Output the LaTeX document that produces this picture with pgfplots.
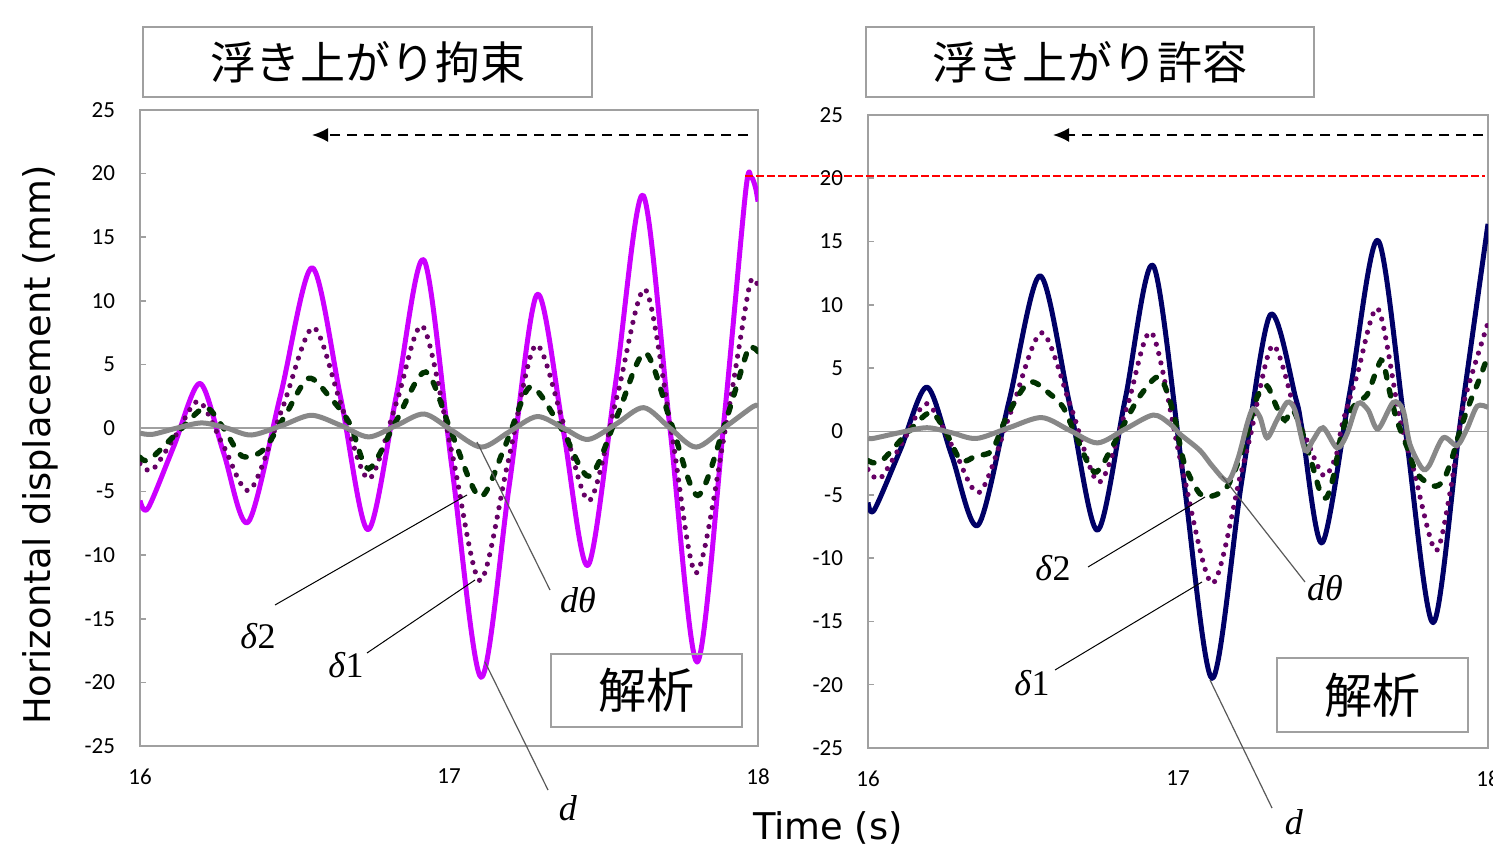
\documentclass[border=0pt]{standalone}
\usepackage{fontspec}
\usepackage{pgfplots}
\pgfplotsset{compat=1.18}
\usetikzlibrary{arrows.meta}
\setmainfont{Liberation Serif}
\newfontfamily\jp{Noto Sans CJK JP}
\newfontfamily\tickfont{Carlito}
\newfontfamily\dv{DejaVu Sans}
\definecolor{mag}{HTML}{CC00FF}
\definecolor{navy}{HTML}{000066}
\definecolor{dpurp}{HTML}{660066}
\definecolor{dgreen}{HTML}{003300}
\definecolor{framegray}{HTML}{A0A0A0}
\definecolor{curvegray}{HTML}{888888}

\pgfplotsset{
 panel/.style={
  scale only axis, anchor=south west,
  xmin=16, xmax=18, ymin=-25, ymax=25,
  xtick={16,17,18}, xticklabels={16,17,18},
  ytick={-25,-20,...,25}, yticklabels={-25,-20,-15,-10,-5,0,5,10,15,20,25},
  ytick pos=left, xtick pos=bottom,
  tick align=inside, major tick length=3pt,
  axis line style={framegray, line width=0.8pt},
  ytick style={framegray, line width=0.8pt},
  xtick style={draw=none},
  ticklabel style={font=\tickfont\fontsize{11.5}{12}\selectfont},
  yticklabel style={xshift=-9pt},
  xticklabel style={yshift=-8pt},
 },
 dline/.style={line width=2.5pt, smooth, line join=round},
 d1line/.style={dpurp, line width=2.6pt, line cap=round, dash pattern=on 0pt off 4.8pt, smooth},
 d2line/.style={dgreen, line width=2.7pt, line cap=round, dash pattern=on 3.2pt off 6pt, smooth},
 dtline/.style={curvegray, line width=2.5pt, smooth},
 zline/.style={framegray, line width=0.7pt},
}

\begin{document}
\begin{tikzpicture}
\useasboundingbox (0,0) rectangle (746.5pt,423pt);

% ---------------- left panel ----------------
\begin{axis}[panel, at={(70pt,50pt)}, width=309pt, height=318pt]
\addplot[zline] coordinates {(16,0) (18,0)};
\addplot[dline, mag] coordinates {
(16.00,-5.7) (16.026,-6.3) (16.11,-1.4) (16.194,3.5) (16.27,-1.9) (16.35,-7.4)
(16.455,2.6) (16.557,12.6) (16.65,2.3) (16.738,-8.0) (16.83,2.6) (16.919,13.2)
(17.01,-3.2) (17.104,-19.6) (17.195,-4.5) (17.285,10.5) (17.37,-0.2) (17.45,-10.8)
(17.54,3.7) (17.628,18.3) (17.715,0) (17.803,-18.4) (17.89,0.6) (17.96,18.6) (17.978,19.7) (17.992,18.9) (18.0,17.8)};
\addplot[d1line] coordinates {
(16.00,-2.8) (16.04,-3.3) (16.115,-0.6) (16.19,2.1) (16.27,-1.4) (16.355,-4.9)
(16.46,1.5) (16.56,7.9) (16.65,1.9) (16.74,-4.0) (16.83,2.0) (16.915,8.0)
(17.01,-2.0) (17.10,-12.0) (17.19,-2.8) (17.28,6.5) (17.37,0.4) (17.455,-5.7)
(17.545,2.6) (17.635,10.9) (17.72,-0.3) (17.80,-11.4) (17.895,0) (17.97,10.9) (17.99,11.4) (18.0,11.3)};
\addplot[d2line] coordinates {
(16.00,-2.3) (16.03,-2.5) (16.12,-0.4) (16.21,1.6) (16.27,0) (16.33,-2.2) (16.40,-1.7)
(16.47,1.0) (16.545,3.9) (16.615,2.4) (16.68,0.3) (16.74,-3.2) (16.83,0.6) (16.925,4.4)
(17.01,-0.5) (17.10,-5.4) (17.18,-1.5) (17.25,2.9) (17.29,2.8) (17.37,-0.3) (17.455,-3.8)
(17.545,1.0) (17.635,5.9) (17.72,0.3) (17.805,-5.3) (17.895,0.5) (17.965,6.0) (17.985,6.3) (18.0,6.0)};
\addplot[dtline] coordinates {
(16.00,-0.4) (16.04,-0.5) (16.12,0) (16.20,0.4) (16.28,0) (16.36,-0.55) (16.46,0.2)
(16.555,1.0) (16.65,0.2) (16.74,-0.7) (16.83,0.2) (16.92,1.1) (17.01,-0.2) (17.105,-1.5)
(17.195,-0.3) (17.285,0.9) (17.37,0) (17.45,-0.9) (17.54,0.3) (17.63,1.6) (17.715,0)
(17.80,-1.5) (17.895,0.1) (17.985,1.7) (18.0,1.65)};
\end{axis}

% ---------------- right panel ----------------
\begin{axis}[panel, at={(434pt,49pt)}, width=310pt, height=316.5pt]
\addplot[zline] coordinates {(16,0) (18,0)};
\addplot[dline, navy] coordinates {
(16.00,-5.6) (16.02,-6.2) (16.105,-1.4) (16.19,3.5) (16.27,-1.9) (16.355,-7.4)
(16.455,2.4) (16.555,12.3) (16.65,2.2) (16.74,-7.8) (16.83,2.6) (16.92,13.1)
(17.015,-3.2) (17.11,-19.5) (17.205,-4.0) (17.297,9.2) (17.38,2.6) (17.40,0.2) (17.465,-8.8)
(17.555,3.2) (17.645,15.1) (17.734,0) (17.823,-15.1) (17.91,0.6) (18.0,16.4)};
\addplot[d1line] coordinates {
(16.00,-3.0) (16.04,-3.7) (16.115,-0.7) (16.19,2.2) (16.275,-1.3) (16.36,-4.8)
(16.46,1.5) (16.56,7.8) (16.655,1.9) (16.745,-4.0) (16.835,1.9) (16.915,7.8)
(17.01,-2.5) (17.11,-12.0) (17.2,-3.6) (17.232,-0.5) (17.305,6.8) (17.38,1.4)
(17.416,-0.7) (17.47,-3.5) (17.51,-1.9) (17.53,0.6) (17.577,4.4) (17.645,9.7)
(17.716,0.9) (17.758,-2.8) (17.83,-9.4) (17.877,-4.9) (17.91,0.6) (17.932,3.2) (18.0,8.6)};
\addplot[d2line] coordinates {
(16.00,-2.3) (16.04,-2.4) (16.12,-0.3) (16.20,1.5) (16.25,0) (16.30,-2.3) (16.35,-1.9)
(16.40,-1.5) (16.45,1.3) (16.52,3.9) (16.59,2.9) (16.63,1.9) (16.66,0.3) (16.73,-3.2)
(16.79,-1.1) (16.835,1.0) (16.88,2.9) (16.94,4.3) (16.985,1.5) (17.02,-2.5) (17.07,-4.9)
(17.11,-5.1) (17.16,-4.3) (17.21,-1.3) (17.255,2.7) (17.287,3.6) (17.319,1.9) (17.345,0.9)
(17.37,1.7) (17.40,0) (17.435,-2.8) (17.458,-4.7) (17.48,-5.2) (17.506,-3.1) (17.52,-1.0)
(17.545,1.1) (17.577,2.3) (17.61,2.9) (17.64,4.8) (17.66,5.6) (17.684,3.0) (17.706,0.9)
(17.74,-1.3) (17.77,-3.3) (17.823,-4.3) (17.855,-3.9) (17.884,-2.1) (17.91,0.1) (17.94,2.2)
(17.97,4.0) (18.0,6.0)};
\addplot[dtline] coordinates {
(16.00,-0.5) (16.016,-0.55) (16.10,-0.1) (16.19,0.3) (16.27,-0.1) (16.35,-0.55) (16.455,0.3)
(16.56,1.1) (16.65,0.1) (16.74,-0.9) (16.83,0.2) (16.92,1.3) (16.974,0.6) (17.006,-0.2)
(17.071,-1.5) (17.113,-2.8) (17.161,-3.9) (17.194,-2.1) (17.223,0.6) (17.242,1.8) (17.265,1.1)
(17.287,-0.5) (17.319,0.9) (17.352,2.3) (17.377,1.7) (17.41,-1.5) (17.435,-0.7) (17.468,0.3)
(17.513,-1.3) (17.545,-0.2) (17.58,2.2) (17.613,1.7) (17.645,0.2) (17.694,2.3) (17.726,1.7)
(17.748,-1.0) (17.787,-2.9) (17.81,-2.7) (17.855,-0.5) (17.9,-1.1) (17.932,0.2) (17.965,2.0)
(18.0,1.9)};
\end{axis}

% ---------------- annotations ----------------
% titles
\draw[framegray, line width=0.6pt] (71.5pt,374.5pt) rectangle (296pt,409.5pt);
\node[font=\jp\fontsize{22.5}{24}\selectfont] at (183.75pt,392pt) {浮き上がり拘束};
\draw[framegray, line width=0.6pt] (433pt,374.5pt) rectangle (657pt,409.5pt);
\node[font=\jp\fontsize{22.5}{24}\selectfont] at (545pt,392pt) {浮き上がり許容};
% 解析 boxes
\draw[framegray, line width=0.6pt] (275.5pt,59.5pt) rectangle (371pt,96pt);
\node[font=\jp\fontsize{24}{26}\selectfont] at (323.25pt,77.75pt) {解析};
\draw[framegray, line width=0.6pt] (638.5pt,57pt) rectangle (734pt,94pt);
\node[font=\jp\fontsize{24}{26}\selectfont] at (686.25pt,75.5pt) {解析};
% arrows
\draw[black, line width=1pt, dash pattern=on 5pt off 3.5pt, -{Latex[length=8pt,width=7pt]}] (374pt,355.5pt) -- (156pt,355.5pt);
\draw[black, line width=1pt, dash pattern=on 5pt off 3.5pt, -{Latex[length=8pt,width=7pt]}] (741.5pt,355.5pt) -- (526.5pt,355.5pt);
% red reference line
\draw[red, line width=0.6pt, dash pattern=on 4pt off 1.5pt] (372.5pt,335pt) -- (742.5pt,335pt);
% leader lines left
\draw[black, line width=0.5pt] (137.5pt,120.5pt) -- (233.5pt,175.5pt);
\draw[black, line width=0.5pt] (183.5pt,96.5pt) -- (237.5pt,133pt);
\draw[black!65, line width=0.6pt] (238.5pt,202pt) -- (275pt,128pt);
\draw[black!65, line width=0.6pt] (242.5pt,92pt) -- (274pt,28pt);
% leader lines right
\draw[black, line width=0.5pt] (544pt,139.5pt) -- (602.5pt,174.5pt);
\draw[black, line width=0.5pt] (527.5pt,88pt) -- (601pt,132pt);
\draw[black!65, line width=0.6pt] (611pt,185pt) -- (652.5pt,132pt);
\draw[black!65, line width=0.6pt] (605pt,83pt) -- (636pt,19pt);
% symbol labels
\begin{scope}[every node/.style={font=\fontsize{18}{20}\selectfont, inner sep=0pt}]
\node at (129pt,105pt) {\textit{δ}2};
\node at (173pt,90.5pt) {\textit{δ}1};
\node at (289pt,123pt) {\textit{dθ}};
\node at (284pt,19pt) {\textit{d}};
\node at (526.5pt,139pt) {\textit{δ}2};
\node at (662.5pt,129pt) {\textit{dθ}};
\node at (516pt,81.5pt) {\textit{δ}1};
\node at (647pt,12pt) {\textit{d}};
\end{scope}
% axis labels
\node[rotate=90, font=\dv\fontsize{18.4}{20}\selectfont] at (20pt,200.5pt) {Horizontal displacement (mm)};
\node[font=\dv\fontsize{18.4}{20}\selectfont] at (414pt,9pt) {Time (s)};
\end{tikzpicture}
\end{document}
